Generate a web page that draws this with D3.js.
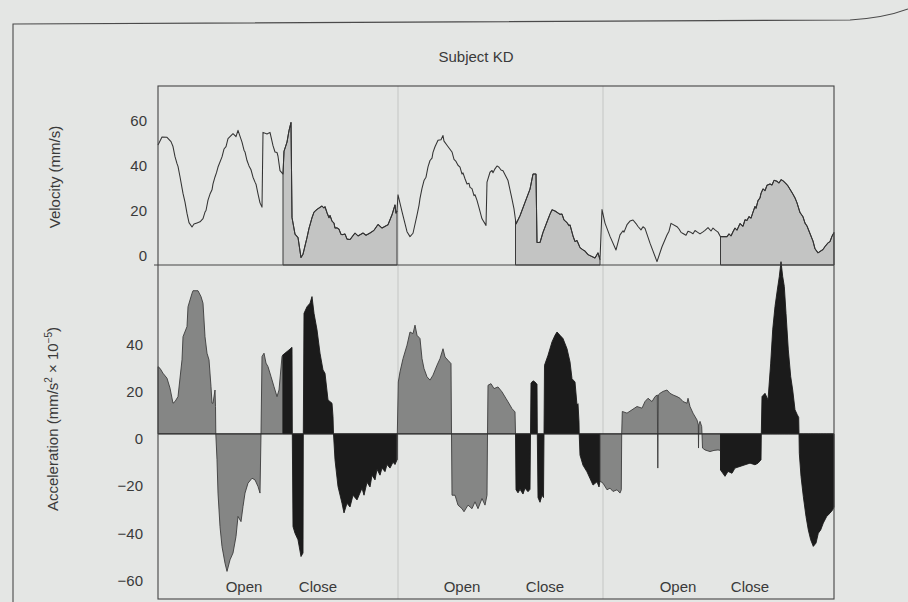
<!DOCTYPE html>
<html>
<head>
<meta charset="utf-8">
<script src="https://cdn.jsdelivr.net/npm/d3@7"></script>
<style>
  html, body { margin: 0; padding: 0; background: #e4e6e4; }
  svg { display: block; }
  text { font-family: "Liberation Sans", Arial, Helvetica, sans-serif; fill: #3a3a3a; }
</style>
</head>
<body>
<svg id="chart" width="908" height="602"></svg>
<script>
// ---- Data: time (s) and measured values for subject KD, three open/close trials ----

// Hand velocity, [time s, mm/s]
const velocity = [
  [0.00, 53.3], [0.04, 56.8], [0.09, 56.7], [0.13, 54.8], [0.15, 52.6], [0.17, 48.1],
  [0.19, 45.0], [0.20, 43.8], [0.22, 39.2], [0.25, 31.8], [0.27, 27.9], [0.29, 22.9],
  [0.31, 18.8], [0.34, 16.9], [0.36, 18.2], [0.39, 18.7], [0.42, 19.2], [0.45, 20.6],
  [0.47, 23.5], [0.48, 24.2], [0.50, 28.8], [0.52, 31.5], [0.54, 33.4], [0.55, 36.0],
  [0.57, 39.1], [0.585, 41.0], [0.60, 43.5], [0.64, 48.0], [0.66, 51.5], [0.68, 52.6],
  [0.70, 56.1], [0.75, 58.3], [0.78, 57.0], [0.80, 59.8], [0.84, 54.6], [0.86, 51.0],
  [0.87, 50.2], [0.89, 46.4], [0.91, 44.0], [0.93, 42.3], [0.95, 39.0], [0.97, 36.8],
  [0.98, 35.9], [1.00, 31.6], [1.02, 27.6], [1.04, 25.7], [1.05, 58.9], [1.09, 58.2],
  [1.12, 58.9], [1.15, 53.0], [1.17, 50.2], [1.19, 50.0], [1.20, 48.3], [1.22, 41.9],
  [1.25, 40.4], [1.26, 50.5], [1.29, 54.6], [1.31, 59.7], [1.33, 63.3], [1.34, 21.1],
  [1.37, 13.7], [1.40, 12.2], [1.43, 3.3], [1.45, 4.8], [1.49, 12.2], [1.51, 16.3],
  [1.52, 17.8], [1.54, 21.0], [1.56, 23.5], [1.59, 24.7], [1.64, 26.2], [1.66, 25.3],
  [1.67, 25.9], [1.69, 23.2], [1.71, 21.0], [1.72, 22.0], [1.74, 19.5], [1.76, 18.6],
  [1.77, 16.4], [1.79, 16.5], [1.81, 15.9], [1.83, 13.6], [1.85, 13.5], [1.87, 13.8],
  [1.89, 11.5], [1.92, 11.3], [1.97, 14.2], [2.00, 12.9], [2.05, 14.2], [2.08, 13.2],
  [2.12, 14.2], [2.16, 15.4], [2.20, 18.0], [2.24, 16.4], [2.30, 17.9], [2.34, 22.3],
  [2.37, 26.7], [2.38, 23.0], [2.39, 24.0],
  [2.40, 31.2], [2.44, 23.7], [2.49, 14.8], [2.52, 12.6], [2.55, 14.1], [2.59, 22.2],
  [2.61, 26.5], [2.62, 29.6], [2.64, 34.0], [2.66, 37.5], [2.68, 39.0], [2.70, 43.6],
  [2.72, 46.4], [2.74, 47.5], [2.75, 50.0], [2.77, 52.5], [2.80, 55.4], [2.83, 55.6],
  [2.85, 57.5], [2.86, 55.0], [2.89, 53.2], [2.94, 50.2], [2.96, 46.9], [2.98, 46.0],
  [3.00, 44.3], [3.02, 43.5], [3.04, 40.4], [3.05, 40.9], [3.07, 38.3], [3.09, 36.0],
  [3.11, 36.3], [3.12, 34.5], [3.14, 33.9], [3.16, 30.8], [3.17, 31.2], [3.19, 28.7],
  [3.21, 25.5], [3.24, 20.5], [3.28, 17.6], [3.29, 36.8], [3.32, 41.2], [3.34, 42.0],
  [3.35, 41.0], [3.37, 42.7], [3.39, 44.0], [3.41, 43.4], [3.43, 42.2], [3.45, 41.9],
  [3.50, 37.5], [3.54, 29.3], [3.56, 24.9], [3.575, 20.0], [3.58, 18.2], [3.62, 21.9],
  [3.67, 27.8], [3.72, 33.7], [3.75, 40.4], [3.78, 40.4], [3.79, 10.0], [3.82, 10.0],
  [3.85, 14.5], [3.90, 20.3], [3.92, 22.6], [3.94, 24.5], [3.97, 24.0], [4.02, 22.5],
  [4.04, 22.6], [4.06, 20.0], [4.09, 18.8], [4.11, 17.5], [4.12, 17.8], [4.15, 12.9],
  [4.17, 10.4], [4.19, 10.9], [4.22, 7.7], [4.25, 6.7], [4.27, 6.2], [4.30, 4.6],
  [4.37, 3.1], [4.40, 5.4], [4.42, 2.4],
  [4.44, 24.6], [4.47, 18.6], [4.52, 12.7], [4.58, 6.7], [4.62, 13.4], [4.65, 15.2],
  [4.66, 14.6], [4.69, 17.9], [4.72, 19.5], [4.75, 20.0], [4.78, 18.4], [4.80, 17.1],
  [4.83, 15.6], [4.85, 17.0], [4.87, 16.3], [4.92, 9.7], [4.99, 1.5], [5.04, 8.1],
  [5.09, 13.3], [5.11, 15.0], [5.13, 18.5], [5.19, 17.0], [5.21, 16.0], [5.23, 14.5],
  [5.25, 14.0], [5.28, 13.2], [5.30, 15.0], [5.32, 14.7], [5.35, 13.9], [5.37, 15.3],
  [5.39, 14.7], [5.42, 13.8], [5.45, 14.7], [5.47, 15.4], [5.50, 16.6], [5.53, 15.1],
  [5.55, 16.4], [5.57, 15.6], [5.60, 14.6], [5.625, 12.6], [5.69, 12.6], [5.71, 13.8],
  [5.73, 12.9], [5.75, 14.8], [5.77, 16.4], [5.79, 15.5], [5.82, 18.4], [5.85, 17.2],
  [5.87, 20.1], [5.89, 19.8], [5.91, 21.5], [5.93, 20.8], [5.95, 23.5], [5.97, 26.0],
  [5.98, 25.2], [6.00, 28.6], [6.02, 29.8], [6.03, 31.8], [6.05, 33.8], [6.07, 33.0],
  [6.09, 35.4], [6.12, 36.0], [6.14, 35.5], [6.16, 37.6], [6.19, 37.2], [6.21, 36.4],
  [6.23, 37.9], [6.25, 37.4], [6.27, 36.6], [6.30, 35.1], [6.35, 31.4], [6.37, 29.8],
  [6.39, 27.6], [6.42, 23.3], [6.45, 21.4], [6.47, 18.6], [6.49, 17.3], [6.55, 10.6],
  [6.57, 7.2], [6.60, 5.4], [6.65, 6.9], [6.67, 8.2], [6.70, 9.8], [6.72, 10.4],
  [6.74, 12.8], [6.76, 14.4]
];

// Hand acceleration, [time s, mm/s^2 x 10^-5]
const acceleration = [
  [0.00, 28.5], [0.02, 27.8], [0.05, 25.7], [0.09, 23.6], [0.12, 19.4], [0.15, 13.0],
  [0.17, 13.7], [0.20, 15.8], [0.24, 31.4], [0.25, 41.2], [0.29, 45.5], [0.30, 53.9],
  [0.34, 59.6], [0.35, 60.7], [0.40, 60.7], [0.43, 58.2], [0.45, 55.4], [0.47, 41.2],
  [0.49, 34.2], [0.51, 31.4], [0.53, 20.0], [0.54, 13.0], [0.55, 13.0], [0.57, 18.6],
  [0.575, 11.6], [0.578, 0],
  [0.59, -11.0], [0.60, -25.1], [0.62, -39.3], [0.64, -47.8], [0.67, -54.8], [0.69, -58.3],
  [0.72, -53.4], [0.75, -50.5], [0.78, -43.5], [0.80, -35.0], [0.83, -37.2], [0.85, -30.8],
  [0.87, -25.1], [0.90, -20.9], [0.94, -18.8], [0.97, -19.5], [1.00, -22.3], [1.02, -25.1],
  [1.03, 0],
  [1.04, 32.8], [1.06, 34.2], [1.08, 30.0], [1.10, 28.5], [1.13, 24.3], [1.16, 20.0],
  [1.19, 15.8], [1.21, 18.6], [1.24, 32.8], [1.25, 33.5],
  [1.29, 34.9], [1.31, 35.6], [1.34, 36.7], [1.343, 0],
  [1.35, -39.3], [1.37, -42.1], [1.40, -44.9], [1.43, -52.0], [1.45, -50.5], [1.453, 0],
  [1.46, 51.1], [1.49, 53.9], [1.52, 55.4], [1.54, 58.2], [1.56, 51.1], [1.59, 44.1],
  [1.62, 34.2], [1.65, 27.1], [1.67, 25.7], [1.70, 14.4], [1.74, 13.0], [1.75, 7.3],
  [1.755, 0],
  [1.77, -11.0], [1.80, -22.3], [1.84, -29.4], [1.86, -33.5], [1.89, -29.4], [1.92, -31.0],
  [1.95, -26.0], [1.99, -28.0], [2.04, -23.0], [2.06, -26.0], [2.09, -20.5], [2.12, -22.5],
  [2.14, -17.5], [2.17, -19.5], [2.19, -15.0], [2.22, -17.5], [2.24, -14.5], [2.27, -16.0],
  [2.29, -13.0], [2.32, -14.5], [2.35, -12.0], [2.37, -13.0], [2.39, -11.0],
  [2.393, 0],
  [2.403, 22.0], [2.42, 26.3], [2.45, 31.9], [2.49, 37.6], [2.52, 43.2], [2.55, 42.5],
  [2.57, 46.1], [2.59, 41.8], [2.62, 40.4], [2.64, 31.9], [2.66, 27.7], [2.69, 24.2],
  [2.72, 22.8], [2.75, 24.9], [2.79, 29.1], [2.82, 31.9], [2.85, 36.1], [2.87, 32.6],
  [2.90, 31.2], [2.93, 29.8], [2.935, 0],
  [2.94, -26.0], [2.97, -26.0], [3.00, -30.2], [3.04, -31.7], [3.06, -33.0], [3.10, -30.2],
  [3.14, -31.7], [3.17, -28.8], [3.20, -31.7], [3.24, -27.4], [3.27, -30.2], [3.29, -26.0],
  [3.295, 0],
  [3.30, 20.6], [3.33, 21.3], [3.36, 19.2], [3.40, 19.9], [3.44, 17.8], [3.48, 15.0],
  [3.50, 13.6], [3.54, 10.7], [3.57, 9.3], [3.575, 0],
  [3.58, -23.7], [3.60, -25.0], [3.62, -23.5], [3.65, -25.5], [3.67, -23.0], [3.70, -24.5],
  [3.72, -23.5], [3.725, 0],
  [3.73, 21.5], [3.75, 22.5], [3.77, 22.0], [3.79, 21.0], [3.793, 0],
  [3.80, -27.0], [3.82, -29.0], [3.84, -26.0], [3.855, -27.0], [3.86, 0],
  [3.865, 29.1], [3.90, 33.3], [3.94, 39.0], [3.97, 41.8], [3.99, 43.2], [4.02, 41.8],
  [4.05, 40.4], [4.09, 36.1], [4.12, 30.5], [4.14, 23.4], [4.17, 22.0], [4.19, 12.2],
  [4.20, 12.8], [4.21, 5.0], [4.212, 0],
  [4.22, -9.0], [4.25, -13.3], [4.29, -16.1], [4.32, -18.9], [4.35, -21.7], [4.39, -20.3],
  [4.41, -22.5], [4.42, -20.0],
  [4.45, -20.9], [4.49, -23.7], [4.52, -23.0], [4.55, -24.4], [4.59, -23.7], [4.62, -25.1],
  [4.633, -23.7], [4.637, 0],
  [4.643, 9.5], [4.69, 8.8], [4.74, 10.2], [4.79, 11.6], [4.84, 10.9], [4.87, 13.7],
  [4.90, 15.1], [4.94, 13.7], [4.97, 15.8], [4.993, 16.5], [4.998, -14.5], [5.003, 16.5],
  [5.02, 17.2], [5.05, 18.0], [5.09, 18.6], [5.12, 17.2], [5.15, 16.5], [5.19, 15.8],
  [5.22, 15.1], [5.25, 13.7], [5.29, 13.0], [5.30, 15.1], [5.32, 11.6], [5.35, 8.8],
  [5.39, 5.9], [5.403, 3.8], [5.405, -6.0], [5.408, 3.8], [5.42, 5.3], [5.437, 3.1],
  [5.44, 0],
  [5.445, -6.0], [5.47, -6.8], [5.52, -7.5], [5.56, -7.0], [5.60, -6.8], [5.625, -7.0],
  [5.625, -15.3], [5.67, -18.0], [5.70, -15.9], [5.74, -16.7], [5.77, -14.5], [5.82, -13.8],
  [5.87, -13.1], [5.92, -12.4], [5.97, -13.1], [6.00, -12.4], [6.03, -11.0], [6.033, 0],
  [6.04, 15.8], [6.07, 17.2], [6.10, 14.4], [6.127, 30.0], [6.147, 44.1], [6.17, 54.0],
  [6.193, 61.0], [6.213, 66.7], [6.23, 73.0], [6.247, 66.7], [6.263, 62.5], [6.28, 51.1],
  [6.303, 35.6], [6.327, 24.3], [6.347, 18.6], [6.37, 10.2], [6.393, 8.1], [6.407, 7.0],
  [6.41, 0],
  [6.413, -8.2], [6.43, -18.0], [6.453, -26.5], [6.48, -35.0], [6.503, -40.7], [6.527, -44.9],
  [6.553, -47.7], [6.58, -46.3], [6.603, -42.1], [6.627, -40.7], [6.653, -37.8], [6.687, -35.0],
  [6.72, -33.6], [6.747, -32.2], [6.76, -31.0]
];

// Movement phases (s) and the time at which each phase name is printed
const phases = [
  { name: "Open",  start: 0.00,  end: 1.25,  labelAt: 0.86 },
  { name: "Close", start: 1.25,  end: 2.39,  labelAt: 1.60 },
  { name: "Open",  start: 2.39,  end: 3.575, labelAt: 3.04 },
  { name: "Close", start: 3.575, end: 4.42,  labelAt: 3.87 },
  { name: "Open",  start: 4.42,  end: 5.625, labelAt: 5.20 },
  { name: "Close", start: 5.625, end: 6.76,  labelAt: 5.92 }
];

// Start times of the second and third trials
const trialStarts = [2.40, 4.45];

const velocityTicks = [0, 20, 40, 60];
const accelTicks = [-60, -40, -20, 0, 20, 40];

// ---- Layout ----
const left = 158, right = 834;
const topV = 86, bottomV = 265;
const topA = 265, bottomA = 599;

const svg = d3.select("#chart");

const x = d3.scaleLinear().domain([0, 6.76]).range([left, right]);
const yV = d3.scaleLinear().domain([0, 79.5]).range([bottomV, topV]);
const yA = d3.scaleLinear().domain([-70.0, 71.6]).range([bottomA, topA]);

const inPhase = (p) => (d) => d[0] >= p.start && d[0] <= p.end;

// outer figure border of the printed page
svg.append("path")
  .attr("d", "M13,602 L13,24 L850,20 Q884,18 908,9")
  .attr("fill", "none").attr("stroke", "#4a4a4a").attr("stroke-width", 1.1);

// trial separators
svg.append("g").selectAll("line").data(trialStarts).join("line")
  .attr("x1", d => x(d)).attr("x2", d => x(d))
  .attr("y1", topV).attr("y2", bottomA)
  .attr("stroke", "#c4c6c4").attr("stroke-width", 1);

// ---- Velocity panel ----
const closePhases = phases.filter(p => p.name === "Close");

const vArea = d3.area()
  .x(d => x(d[0])).y0(bottomV).y1(d => yV(d[1]));

svg.append("g").selectAll("path").data(closePhases).join("path")
  .attr("d", p => vArea(velocity.filter(inPhase(p))))
  .attr("fill", "#c3c4c3")
  .attr("stroke", "#3a3a3a").attr("stroke-width", 1);

const vLine = d3.line().x(d => x(d[0])).y(d => yV(d[1]));
svg.append("path")
  .attr("d", vLine(velocity))
  .attr("fill", "none").attr("stroke", "#333").attr("stroke-width", 1.05)
  .attr("stroke-linejoin", "round");

// ---- Acceleration panel ----
const aArea = d3.area()
  .x(d => x(d[0])).y0(yA(0)).y1(d => yA(d[1]));

svg.append("g").selectAll("path").data(phases).join("path")
  .attr("d", p => aArea(acceleration.filter(inPhase(p))))
  .attr("fill", p => p.name === "Close" ? "#1b1b1b" : "#858685")
  .attr("stroke", p => p.name === "Close" ? "#1b1b1b" : "#3c3c3c")
  .attr("stroke-width", 0.9)
  .attr("stroke-linejoin", "round");

// zero line
svg.append("line")
  .attr("x1", left).attr("x2", right)
  .attr("y1", yA(0)).attr("y2", yA(0))
  .attr("stroke", "#2a2a2a").attr("stroke-width", 1);

// ---- Frames ----
svg.append("rect")
  .attr("x", left).attr("y", topV)
  .attr("width", right - left).attr("height", bottomA - topV)
  .attr("fill", "none").attr("stroke", "#444").attr("stroke-width", 1.1);
svg.append("line")
  .attr("x1", left - 4).attr("x2", right)
  .attr("y1", bottomV).attr("y2", bottomV)
  .attr("stroke", "#444").attr("stroke-width", 1.2);

// ---- Axes ----
const gV = svg.append("g").attr("transform", `translate(${left},0)`)
  .call(d3.axisLeft(yV).tickValues(velocityTicks).tickSize(0).tickPadding(11));
gV.select(".domain").remove();
gV.selectAll("text")
  .attr("transform", "translate(0,-9)")
  .style("font-size", "15px").style("font-family", "'Liberation Sans', Arial, sans-serif")
  .attr("fill", "#3a3a3a");

const gA = svg.append("g").attr("transform", `translate(${left},0)`)
  .call(d3.axisLeft(yA).tickValues(accelTicks).tickSize(0).tickPadding(15));
gA.select(".domain").remove();
gA.selectAll("text")
  .attr("transform", "translate(0,5)")
  .style("font-size", "15px").style("font-family", "'Liberation Sans', Arial, sans-serif")
  .attr("fill", "#3a3a3a");

// ---- Titles ----
svg.append("text")
  .attr("x", 476).attr("y", 62)
  .attr("text-anchor", "middle")
  .style("font-size", "15px")
  .text("Subject KD");

svg.append("text")
  .attr("transform", "translate(60,177) rotate(-90)")
  .attr("text-anchor", "middle")
  .style("font-size", "15px")
  .text("Velocity (mm/s)");

const accTitle = svg.append("text")
  .attr("transform", "translate(58,419) rotate(-90)")
  .attr("text-anchor", "middle")
  .style("font-size", "15px");
accTitle.append("tspan").text("Acceleration (mm/s");
accTitle.append("tspan").attr("dy", -6).style("font-size", "10px").text("2");
accTitle.append("tspan").attr("dy", 6).text(" \u00d7 10");
accTitle.append("tspan").attr("dy", -6).style("font-size", "10px").text("\u22125");
accTitle.append("tspan").attr("dy", 6).text(")");

// phase names under the acceleration traces
svg.append("g").selectAll("text").data(phases).join("text")
  .attr("x", p => x(p.labelAt)).attr("y", 592)
  .attr("text-anchor", "middle")
  .style("font-size", "15px")
  .text(p => p.name);
</script>
</body>
</html>
